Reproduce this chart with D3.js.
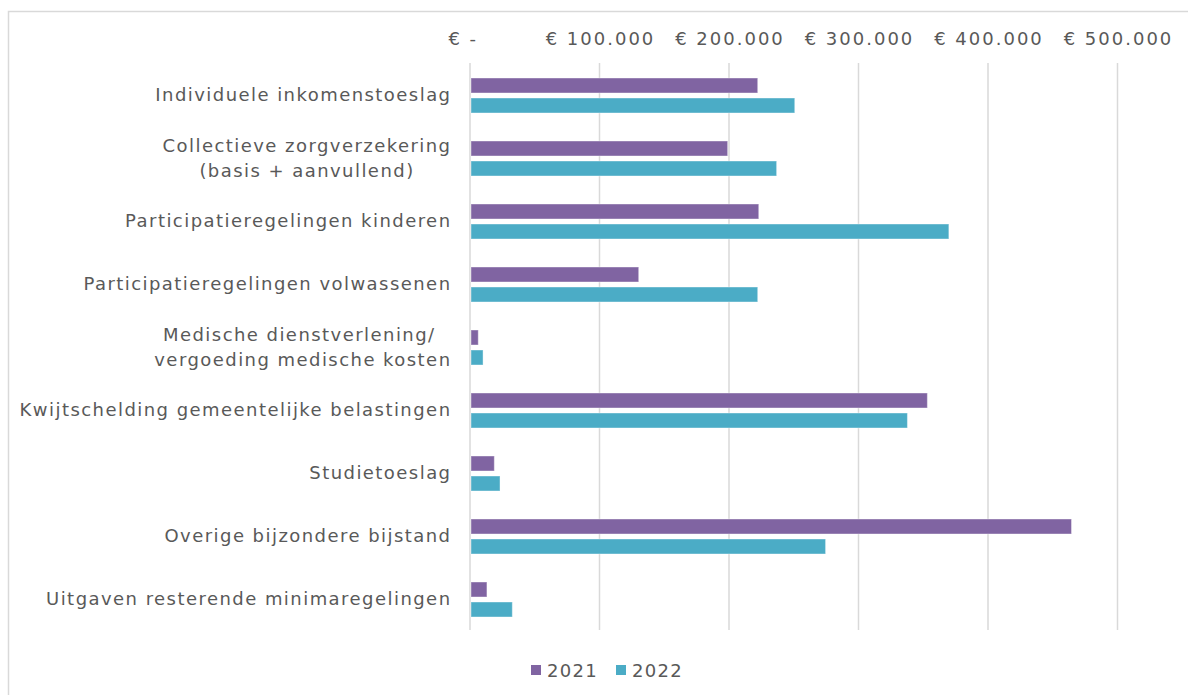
<!DOCTYPE html>
<html>
<head>
<meta charset="utf-8">
<script src="https://cdn.jsdelivr.net/npm/d3@7"></script>
<style>
  body { margin: 0; background: #fff; }
  svg text { font-family: Verdana, "DejaVu Sans", sans-serif; fill: #595959; }
</style>
</head>
<body>
<svg id="chart" width="1188" height="695"></svg>
<script>
// categories, each one a list of lines as they appear in the chart
const categories = [
  ['Individuele inkomenstoeslag'],
  ['Collectieve zorgverzekering', '(basis + aanvullend)'],
  ['Participatieregelingen kinderen'],
  ['Participatieregelingen volwassenen'],
  ['Medische dienstverlening/ ', 'vergoeding medische kosten'],
  ['Kwijtschelding gemeentelijke belastingen'],
  ['Studietoeslag'],
  ['Overige bijzondere bijstand'],
  ['Uitgaven resterende minimaregelingen']
];
const values2021 = [221400, 198200, 222200, 129500, 5600, 352400, 18000, 463700, 12300];
const values2022 = [250000, 236000, 369000, 221400, 9300, 337000, 22400, 273800, 31900];
const seriesNames = ['2021', '2022'];
const seriesColors = ['#8064A2', '#4BACC6'];
const tickValues = [0, 100000, 200000, 300000, 400000, 500000];

const svg = d3.select('#chart');

// outer frame
svg.append('rect')
  .attr('x', 8.5).attr('y', 11.5)
  .attr('width', 1200).attr('height', 700)
  .attr('fill', 'none').attr('stroke', '#d9d9d9').attr('stroke-width', 1.5);

const plotLeft = 470, plotRight = 1117.5, plotTop = 63, plotBottom = 630;

const x = d3.scaleLinear().domain([0, 500000]).range([plotLeft, plotRight]);
const y = d3.scaleBand().domain(d3.range(categories.length)).range([plotTop, plotBottom]);
const ySub = d3.scaleBand().domain([0, 1]).range([15, y.bandwidth() - 13]).paddingInner(0.25);

// gridlines
svg.append('g')
  .selectAll('line')
  .data(tickValues)
  .join('line')
  .attr('x1', d => x(d)).attr('x2', d => x(d))
  .attr('y1', plotTop).attr('y2', plotBottom)
  .attr('stroke', '#d9d9d9').attr('stroke-width', 1.5);

// top axis labels
const fmt = d => d === 0 ? '€ -\u00a0\u00a0' : '€ ' + d3.format(',')(d).replace(/,/g, '.');
svg.append('g')
  .selectAll('text')
  .data(tickValues)
  .join('text')
  .attr('x', d => x(d) + 1).attr('y', 45)
  .attr('text-anchor', 'middle')
  .style('font-size', '18px')
  .style('letter-spacing', '2px')
  .text(fmt);

// bars
const data = categories.map((c, i) => [values2021[i], values2022[i]]);
const groups = svg.append('g')
  .selectAll('g')
  .data(data)
  .join('g')
  .attr('transform', (d, i) => `translate(0,${y(i)})`);

groups.selectAll('rect')
  .data(d => d)
  .join('rect')
  .attr('x', x(0) + 1)
  .attr('y', (d, j) => ySub(j))
  .attr('width', d => x(d) - x(0))
  .attr('height', ySub.bandwidth())
  .attr('fill', (d, j) => seriesColors[j])
  .attr('stroke', '#fff').attr('stroke-opacity', 0.4).attr('stroke-width', 1);

// category labels (multi-line blocks right aligned, lines centred within block)
const labelRight = 451.5, lineH = 25;
categories.forEach((lines, i) => {
  const g = svg.append('g');
  const cy = y(i) + y.bandwidth() / 2;
  const texts = lines.map((l, k) => g.append('text')
    .attr('y', cy + (k - (lines.length - 1) / 2) * lineH + 6.5)
    .attr('text-anchor', 'middle')
    .style('font-size', '18px')
    .style('letter-spacing', '1.45px')
    .style('white-space', 'pre')
    .text(l));
  const maxW = d3.max(texts, t => t.node().getComputedTextLength());
  texts.forEach(t => t.attr('x', labelRight - maxW / 2));
});

// legend
const legend = svg.append('g').attr('transform', 'translate(531,665)');
const legX = [0, 85];
seriesNames.forEach((name, j) => {
  legend.append('rect')
    .attr('x', legX[j]).attr('y', 0)
    .attr('width', 10).attr('height', 10)
    .attr('fill', seriesColors[j]);
  legend.append('text')
    .attr('x', legX[j] + 16).attr('y', 12)
    .style('font-size', '18px')
    .style('letter-spacing', '1.3px')
    .text(name);
});
</script>
</body>
</html>
